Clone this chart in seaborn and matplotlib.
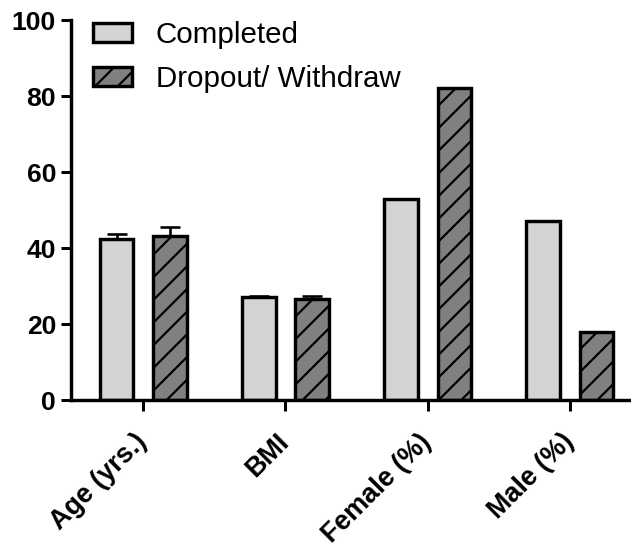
import matplotlib
matplotlib.use("Agg")
import matplotlib.pyplot as plt
import seaborn as sns
import pandas as pd

# ---- data ----
categories = ["Age (yrs.)", "BMI", "Female (%)", "Male (%)"]
groups = ["Completed", "Dropout/ Withdraw"]
completed = [42.5, 27.0, 53.0, 47.0]
dropout = [43.2, 26.7, 82.0, 18.0]
completed_err = [1.3, 0.4, 0.0, 0.0]
dropout_err = [2.2, 0.6, 0.0, 0.0]
y_ticks = [0, 20, 40, 60, 80, 100]

DPI = 136
W, H = 631, 548


def px(v):
    return v * 72.0 / DPI


sns.set_style("ticks")
plt.rcParams["font.family"] = ["Liberation Sans", "DejaVu Sans"]
plt.rcParams["hatch.linewidth"] = px(2.2)
plt.rcParams["text.color"] = "black"
plt.rcParams["axes.labelcolor"] = "black"

df = pd.DataFrame({
    "category": categories * 2,
    "group": [groups[0]] * len(categories) + [groups[1]] * len(categories),
    "value": completed + dropout,
})

fig = plt.figure(figsize=(W / DPI, H / DPI), dpi=DPI)
ax = fig.add_axes([71 / W, 1 - 400 / H, 1 - 71 / W, (400 - 20) / H])

sns.barplot(data=df, x="category", y="value", hue="group",
            order=categories, hue_order=groups,
            palette={groups[0]: "#d3d3d3", groups[1]: "#808080"},
            saturation=1, width=0.75, gap=0.37,
            edgecolor="black", linewidth=px(3.4),
            errorbar=None, legend=False, ax=ax)

bar_containers = list(ax.containers)
for p in bar_containers[1]:
    p.set_hatch("//")

for cont, vals, errs in zip(bar_containers, [completed, dropout], [completed_err, dropout_err]):
    xs, ys, es = [], [], []
    for p, v, e in zip(cont, vals, errs):
        if e > 0:
            xs.append(p.get_x() + p.get_width() / 2)
            ys.append(v)
            es.append(e)
    ax.errorbar(xs, ys, yerr=[[0] * len(es), es], fmt="none", ecolor="black",
                elinewidth=px(2.6), capsize=px(10), capthick=px(2.6), zorder=5)

ax.set_xlim(-0.508, 3.43)
ax.set_ylim(0, 100)
ax.set_yticks(y_ticks)
ax.set_xlabel("")
ax.set_ylabel("")
ax.grid(False)

ax.spines[["top", "right"]].set_visible(False)
for s in ["left", "bottom"]:
    ax.spines[s].set_linewidth(px(3.4))
    ax.spines[s].set_color("black")

ax.tick_params(axis="y", width=px(3), length=px(10), color="black",
               pad=px(5), labelsize=px(26.5), labelcolor="black")
ax.tick_params(axis="x", width=px(3), length=px(11), color="black",
               pad=px(27), labelsize=px(27), labelcolor="black")
for t in ax.get_yticklabels():
    t.set_fontweight("bold")
for t in ax.get_xticklabels():
    t.set_fontweight("bold")
    t.set_rotation(45)
    t.set_ha("right")
    t.set_va("center")
    t.set_rotation_mode("anchor")

ax.legend(handles=bar_containers, labels=groups, loc="upper left",
          bbox_to_anchor=(93 / W, 1 - 21 / H), bbox_transform=fig.transFigure,
          frameon=False, borderpad=0, borderaxespad=0,
          handlelength=39 / 29.5, handleheight=18.5 / 29.5,
          handletextpad=0.81, labelspacing=0.54,
          prop={"size": px(29.5)}, labelcolor="black")

fig.savefig("out.png", dpi=DPI)
